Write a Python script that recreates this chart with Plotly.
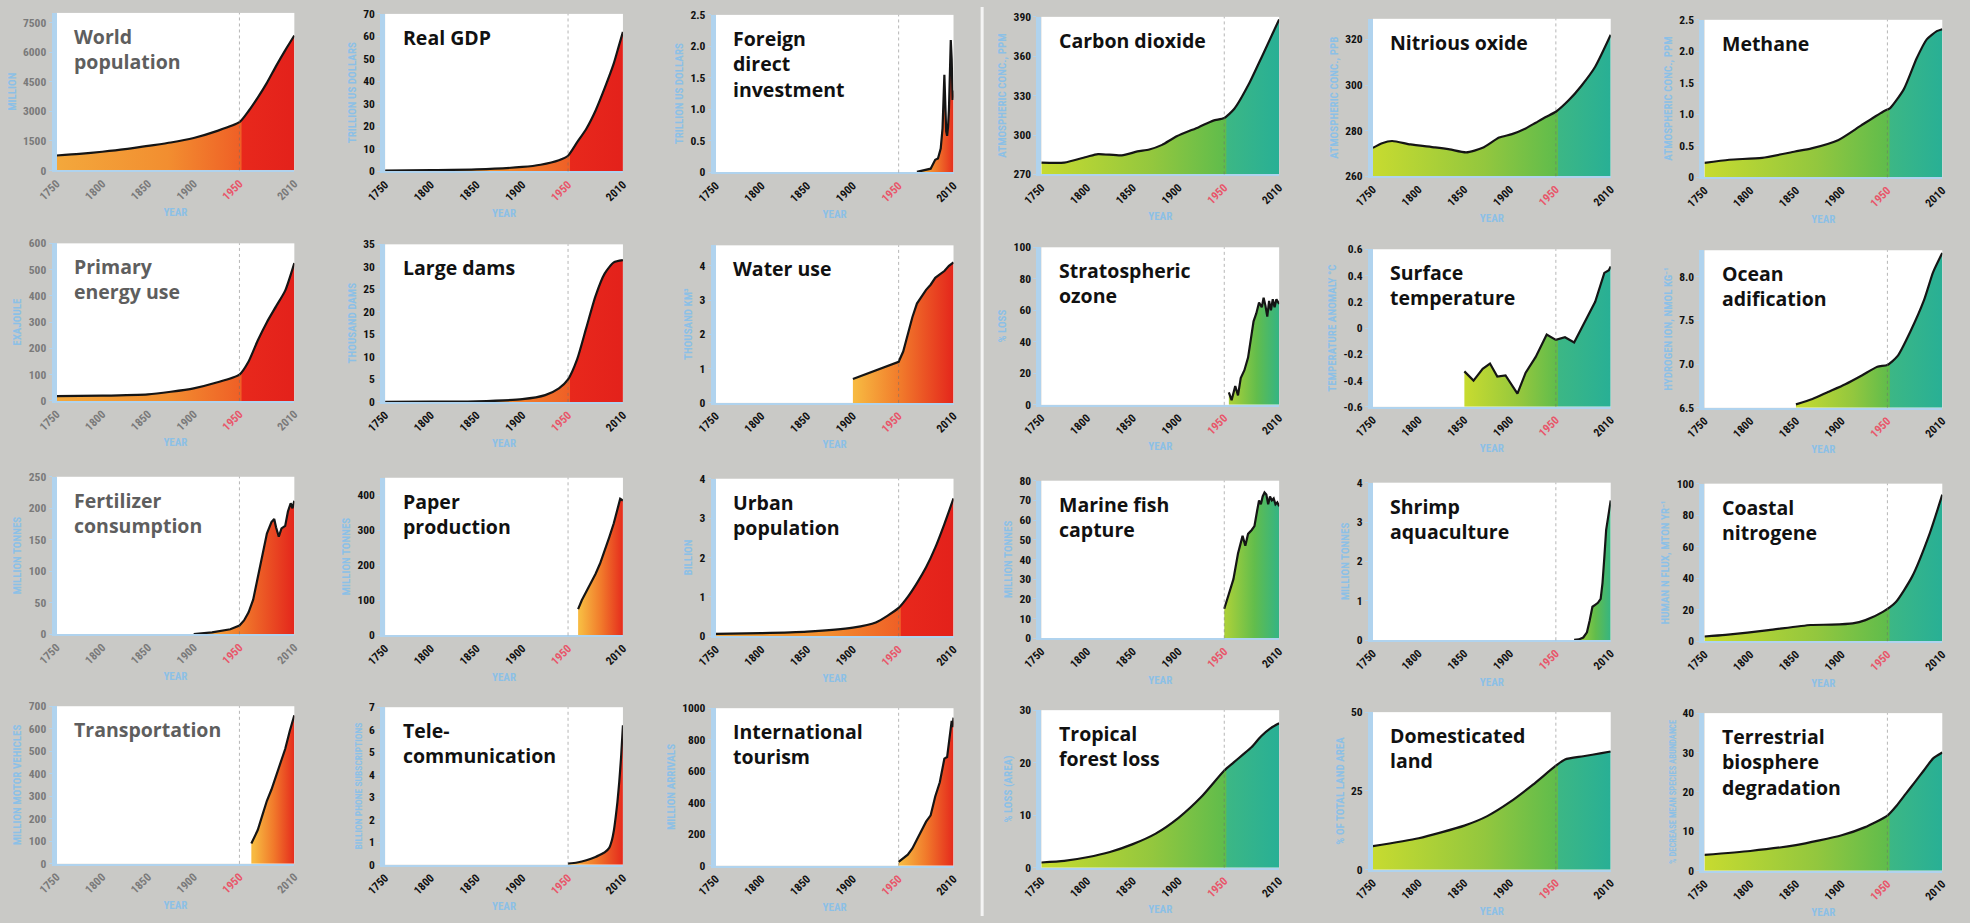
import plotly.graph_objects as go

W, H = 1970, 923
YEAR_TICKS = [1750, 1800, 1850, 1900, 1950, 2010]
YEAR_LABELS = ["1750", "1800", "1850", "1900", "1950", "2010"]

# ---------------- socio-economic data ----------------
pop_years = [1750, 1775, 1800, 1825, 1850, 1875, 1900, 1925, 1950, 1960, 1970, 1980, 1990, 2000, 2010]
pop_vals = [760, 840, 950, 1080, 1250, 1420, 1650, 2000, 2450, 3020, 3700, 4450, 5300, 6100, 6850]

gdp_years = [1750, 1800, 1850, 1900, 1920, 1940, 1950, 1960, 1970, 1980, 1990, 2000, 2005, 2010]
gdp_vals = [0.4, 0.6, 0.9, 2.0, 3.0, 5.0, 7.0, 13, 19, 27, 37, 48, 55, 62]

fdi_years = [1970, 1975, 1980, 1985, 1990, 1993, 1996, 1998, 2000, 2001, 2002, 2003, 2004, 2005, 2006, 2007, 2008, 2009, 2010]
fdi_vals = [0.01, 0.03, 0.05, 0.06, 0.2, 0.22, 0.38, 0.7, 1.55, 0.85, 0.65, 0.58, 0.72, 1.0, 1.45, 2.1, 1.8, 1.15, 1.3]

energy_years = [1750, 1800, 1850, 1875, 1900, 1925, 1950, 1960, 1970, 1980, 1990, 2000, 2010]
energy_vals = [18, 20, 25, 35, 48, 70, 100, 150, 230, 300, 360, 420, 525]

dams_years = [1750, 1800, 1850, 1900, 1925, 1940, 1950, 1960, 1970, 1980, 1990, 2000, 2010]
dams_vals = [0, 0.05, 0.15, 0.6, 1.5, 3.0, 5.0, 9.5, 16.5, 23.5, 28.5, 31, 31.5]

water_years = [1900, 1910, 1925, 1940, 1950, 1955, 1960, 1965, 1970, 1975, 1980, 1985, 1990, 1995, 2000, 2005, 2010]
water_vals = [0.7, 0.8, 0.95, 1.1, 1.2, 1.5, 2.0, 2.5, 2.9, 3.1, 3.3, 3.45, 3.65, 3.75, 3.85, 4.0, 4.1]

fert_years = [1900, 1920, 1940, 1950, 1955, 1960, 1965, 1970, 1975, 1980, 1985, 1988, 1990, 1993, 1996, 2000, 2003, 2006, 2008, 2010]
fert_vals = [0.5, 3, 8, 14, 22, 35, 55, 90, 120, 160, 178, 183, 170, 155, 168, 172, 195, 208, 200, 212]

paper_years = [1961, 1965, 1970, 1975, 1980, 1985, 1990, 1995, 2000, 2005, 2007, 2010]
paper_vals = [75, 100, 125, 150, 175, 205, 240, 280, 320, 365, 390, 385]

urban_years = [1750, 1800, 1850, 1900, 1925, 1950, 1960, 1970, 1980, 1990, 2000, 2010]
urban_vals = [0.06, 0.08, 0.12, 0.22, 0.35, 0.72, 1.0, 1.35, 1.75, 2.25, 2.85, 3.5]

transport_years = [1963, 1970, 1975, 1980, 1985, 1990, 1995, 2000, 2005, 2008, 2010]
transport_vals = [90, 150, 215, 280, 330, 390, 440, 510, 590, 640, 660]

telecom_years = [1950, 1960, 1970, 1980, 1985, 1990, 1995, 1998, 2000, 2002, 2004, 2006, 2008, 2010]
telecom_vals = [0.05, 0.1, 0.2, 0.35, 0.45, 0.55, 0.75, 1.1, 1.5, 2.1, 2.8, 3.7, 4.8, 6.2]

tourism_years = [1950, 1955, 1960, 1965, 1970, 1975, 1980, 1985, 1990, 1995, 2000, 2003, 2005, 2008, 2009, 2010]
tourism_vals = [25, 45, 70, 110, 165, 220, 280, 320, 440, 530, 680, 690, 800, 920, 880, 940]

# ---------------- earth-system data ----------------
co2_years = [1750, 1775, 1800, 1812, 1838, 1855, 1868, 1882, 1898, 1922, 1938, 1950, 1961, 1977, 1992, 2010]
co2_vals = [279, 279, 283.5, 285.5, 284.5, 287.5, 289, 292.5, 299, 306, 311, 313, 320, 339, 361, 388]

n2o_years = [1750, 1760, 1771, 1791, 1818, 1834, 1852, 1870, 1888, 1902, 1917, 1928, 1939, 1950, 1964, 1978, 1993, 2010]
n2o_vals = [272.5, 274.5, 275.5, 274.0, 272.7, 271.8, 270.5, 272.5, 277, 278.5, 281, 283.5, 286, 288.3, 293.3, 299.7, 308, 322]

ch4_years = [1750, 1777, 1813, 1849, 1867, 1896, 1921, 1946, 1953, 1968, 1982, 1993, 2004, 2010]
ch4_vals = [0.23, 0.28, 0.31, 0.41, 0.46, 0.59, 0.82, 1.05, 1.1, 1.4, 1.89, 2.19, 2.32, 2.35]

ozone_years = [1955, 1958, 1962, 1965, 1968, 1972, 1976, 1979, 1982, 1985, 1988, 1991, 1993, 1995, 1997, 1999, 2001, 2003, 2005, 2007, 2010]
ozone_vals = [8, 3, 12, 6, 17, 22, 30, 42, 53, 58, 65, 62, 68, 63, 56, 66, 60, 67, 62, 67, 64]

temp_years = [1850, 1860, 1870, 1878, 1886, 1895, 1908, 1917, 1928, 1940, 1950, 1960, 1970, 1978, 1993, 2003, 2008, 2010]
temp_vals = [-0.33, -0.40, -0.31, -0.27, -0.37, -0.36, -0.50, -0.34, -0.22, -0.05, -0.09, -0.07, -0.11, 0.0, 0.2, 0.42, 0.44, 0.47]

ocean_years = [1850, 1868, 1885, 1904, 1922, 1939, 1950, 1961, 1975, 1990, 2000, 2010]
ocean_vals = [6.54, 6.6, 6.68, 6.77, 6.87, 6.97, 6.99, 7.09, 7.37, 7.73, 8.05, 8.27]

fish_years = [1950, 1955, 1960, 1965, 1970, 1973, 1976, 1980, 1983, 1986, 1988, 1990, 1992, 1994, 1996, 1998, 2000, 2002, 2004, 2006, 2008, 2010]
fish_vals = [15, 22, 30, 43, 52, 47, 53, 55, 57, 65, 70, 68, 72, 74, 73, 68, 72, 70, 71, 68, 69, 67]

shrimp_years = [1970, 1975, 1980, 1984, 1987, 1990, 1993, 1996, 1999, 2001, 2003, 2005, 2007, 2009, 2010]
shrimp_vals = [0.01, 0.02, 0.07, 0.2, 0.5, 0.85, 0.9, 0.95, 1.05, 1.45, 2.1, 2.8, 3.1, 3.4, 3.55]

coastal_years = [1750, 1773, 1820, 1866, 1889, 1912, 1926, 1945, 1959, 1977, 1996, 2010]
coastal_vals = [3, 4, 7, 10.3, 10.5, 11.3, 13.4, 18.6, 24.7, 41, 68, 93]

forest_years = [1750, 1775, 1800, 1825, 1850, 1875, 1900, 1925, 1950, 1960, 1970, 1980, 1990, 2000, 2010]
forest_vals = [1, 1.3, 2, 3, 4.5, 6.5, 9.5, 13.5, 18.5, 20, 21.5, 23, 25, 26.5, 27.5]

land_years = [1750, 1800, 1850, 1875, 1900, 1925, 1950, 1960, 1980, 2000, 2010]
land_vals = [7.5, 10, 14, 17, 21.5, 27, 33, 35, 36, 37, 37.5]

bio_years = [1750, 1800, 1850, 1900, 1925, 1950, 1960, 1970, 1980, 1990, 2000, 2010]
bio_vals = [4, 5, 6.5, 9, 11, 14, 16.5, 19.5, 22.5, 25.5, 28.5, 30]

# ---------------- panel definitions (row-major) ----------------
panels = [
    dict(title="World<br>population", yt="MILLION", x=pop_years, y=pop_vals, kind="s", rng=[0, 8000], tv=[0, 1500, 3000, 4500, 6000, 7500], smooth=True),
    dict(title="Real GDP", yt="TRILLION US DOLLARS", x=gdp_years, y=gdp_vals, kind="s", rng=[0, 70], tv=[0, 10, 20, 30, 40, 50, 60, 70], smooth=True),
    dict(title="Foreign<br>direct<br>investment", yt="TRILLION US DOLLARS", x=fdi_years, y=fdi_vals, kind="s", rng=[0, 2.5], tv=[0, 0.5, 1.0, 1.5, 2.0, 2.5], tt=["0", "0.5", "1.0", "1.5", "2.0", "2.5"], smooth=False),
    dict(title="Carbon dioxide", yt="ATMOSPHERIC CONC., PPM", x=co2_years, y=co2_vals, kind="e", rng=[270, 390], tv=[270, 300, 330, 360, 390], smooth=True),
    dict(title="Nitrious oxide", yt="ATMOSPHERIC CONC., PPB", x=n2o_years, y=n2o_vals, kind="e", rng=[260, 329], tv=[260, 280, 300, 320], smooth=True),
    dict(title="Methane", yt="ATMOSPHERIC CONC., PPM", x=ch4_years, y=ch4_vals, kind="e", rng=[0, 2.5], tv=[0, 0.5, 1.0, 1.5, 2.0, 2.5], tt=["0", "0.5", "1.0", "1.5", "2.0", "2.5"], smooth=True),

    dict(title="Primary<br>energy use", yt="EXAJOULE", x=energy_years, y=energy_vals, kind="s", rng=[0, 600], tv=[0, 100, 200, 300, 400, 500, 600], smooth=True),
    dict(title="Large dams", yt="THOUSAND DAMS", x=dams_years, y=dams_vals, kind="s", rng=[0, 35], tv=[0, 5, 10, 15, 20, 25, 30, 35], smooth=True),
    dict(title="Water use", yt="THOUSAND KM³", x=water_years, y=water_vals, kind="s", rng=[0, 4.6], tv=[0, 1, 2, 3, 4], smooth=False),
    dict(title="Stratospheric<br>ozone", yt="% LOSS", x=ozone_years, y=ozone_vals, kind="e", rng=[0, 100], tv=[0, 20, 40, 60, 80, 100], smooth=False),
    dict(title="Surface<br>temperature", yt="TEMPERATURE ANOMALY °C", x=temp_years, y=temp_vals, kind="e", rng=[-0.6, 0.6], tv=[-0.6, -0.4, -0.2, 0, 0.2, 0.4, 0.6], tt=["-0.6", "-0.4", "-0.2", "0", "0.2", "0.4", "0.6"], smooth=False),
    dict(title="Ocean<br>adification", yt="HYDROGEN ION, NMOL KG⁻¹", x=ocean_years, y=ocean_vals, kind="e", rng=[6.5, 8.3], tv=[6.5, 7.0, 7.5, 8.0], tt=["6.5", "7.0", "7.5", "8.0"], smooth=True),

    dict(title="Fertilizer<br>consumption", yt="MILLION TONNES", x=fert_years, y=fert_vals, kind="s", rng=[0, 250], tv=[0, 50, 100, 150, 200, 250], smooth=False),
    dict(title="Paper<br>production", yt="MILLION TONNES", x=paper_years, y=paper_vals, kind="s", rng=[0, 450], tv=[0, 100, 200, 300, 400], smooth=False),
    dict(title="Urban<br>population", yt="BILLION", x=urban_years, y=urban_vals, kind="s", rng=[0, 4], tv=[0, 1, 2, 3, 4], smooth=True),
    dict(title="Marine fish<br>capture", yt="MILLION TONNES", x=fish_years, y=fish_vals, kind="e", rng=[0, 80], tv=[0, 10, 20, 30, 40, 50, 60, 70, 80], smooth=False),
    dict(title="Shrimp<br>aquaculture", yt="MILLION TONNES", x=shrimp_years, y=shrimp_vals, kind="e", rng=[0, 4], tv=[0, 1, 2, 3, 4], smooth=False),
    dict(title="Coastal<br>nitrogene", yt="HUMAN N FLUX, MTON YR⁻¹", x=coastal_years, y=coastal_vals, kind="e", rng=[0, 100], tv=[0, 20, 40, 60, 80, 100], smooth=True),

    dict(title="Transportation", yt="MILLION MOTOR VEHICLES", x=transport_years, y=transport_vals, kind="s", rng=[0, 700], tv=[0, 100, 200, 300, 400, 500, 600, 700], smooth=False),
    dict(title="Tele-<br>communication", yt="BILLION PHONE SUBSCRIPTIONS", x=telecom_years, y=telecom_vals, kind="s", rng=[0, 7], tv=[0, 1, 2, 3, 4, 5, 6, 7], smooth=True, yts=9.5),
    dict(title="International<br>tourism", yt="MILLION ARRIVALS", x=tourism_years, y=tourism_vals, kind="s", rng=[0, 1000], tv=[0, 200, 400, 600, 800, 1000], smooth=False),
    dict(title="Tropical<br>forest loss", yt="% LOSS (AREA)", x=forest_years, y=forest_vals, kind="e", rng=[0, 30], tv=[0, 10, 20, 30], smooth=True),
    dict(title="Domesticated<br>land", yt="% OF TOTAL LAND AREA", x=land_years, y=land_vals, kind="e", rng=[0, 50], tv=[0, 25, 50], smooth=True),
    dict(title="Terrestrial<br>biosphere<br>degradation", yt="% DECREASE MEAN SPECIES ABUNDANCE", x=bio_years, y=bio_vals, kind="e", rng=[0, 40], tv=[0, 10, 20, 30, 40], smooth=True, yts=8.5),
]

# ---------------- layout geometry (pixels) ----------------
COL_LEFT = [37, 370, 705, 1035, 1371, 1707]
COL_W = 241
COL_DY = [0, 1, 2, 4, 6, 7]
ROW_TOP = [6, 240, 477, 710]
ROW_H = 160

NARROW = "Liberation Sans Narrow, Roboto Condensed, Arial Narrow, Roboto, sans-serif"
TITLEF = "Open Sans, Roboto, sans-serif"
BLUE = "#8cc0e6"
AXBLUE = "#b0d3ee"


def gradient(xs, kind):
    a, b = xs[0], xs[-1]
    if a <= 1850:
        f = (1950 - a) / (b - a)
        if kind == "s":
            cs = [[0, "#f3a83c"], [f * 0.6, "#f28e30"], [f - 0.003, "#ef5f26"], [f, "#e8281c"], [1, "#e3211b"]]
        else:
            cs = [[0, "#c7db30"], [f * 0.6, "#93c73e"], [f - 0.003, "#5fbc4c"], [f, "#3cb785"], [1, "#27af96"]]
    else:
        if kind == "s":
            cs = [[0, "#f7b941"], [0.45, "#f17a2b"], [1, "#e3211b"]]
        else:
            cs = [[0, "#a9d03a"], [0.5, "#62bd4c"], [1, "#2db38c"]]
    return dict(type="horizontal", colorscale=cs, start=a, stop=b)


fig = go.Figure()
layout = dict(
    width=W, height=H, margin=dict(l=0, r=0, t=0, b=0),
    paper_bgcolor="#c9c9c6", plot_bgcolor="#ffffff",
    showlegend=False, font=dict(family=NARROW, color="#111"),
    shapes=[], annotations=[],
)

for k, p in enumerate(panels):
    r, c = divmod(k, 6)
    s = "" if k == 0 else str(k + 1)
    x0 = COL_LEFT[c]
    top = ROW_TOP[r] + COL_DY[c]
    blurred = c == 0
    tcol = "#7a7a7a" if blurred else "#111"
    ttl = "#5e5e5e" if blurred else "#111"
    base = p["rng"][0]

    fig.add_trace(go.Scatter(x=p["x"], y=[base] * len(p["x"]), mode="lines",
                             line=dict(width=0, color="rgba(0,0,0,0)"),
                             xaxis="x" + s, yaxis="y" + s, hoverinfo="skip"))
    fig.add_trace(go.Scatter(x=p["x"], y=p["y"], mode="lines", fill="tonexty",
                             fillgradient=gradient(p["x"], p["kind"]),
                             line=dict(color="#151515", width=2.2,
                                       shape="spline" if p["smooth"] else "linear", smoothing=0.6),
                             xaxis="x" + s, yaxis="y" + s))

    ticktext = [('<span style="color:#e8566a">%s</span>' % t) if t == "1950" else t for t in YEAR_LABELS]
    layout["xaxis" + s] = dict(
        domain=[x0 / W, (x0 + COL_W) / W], anchor="y" + s, range=[1750, 2010],
        tickvals=YEAR_TICKS, ticktext=ticktext, tickangle=-45,
        tickfont=dict(size=11.5, color=tcol, family=NARROW, weight="bold"),
        showgrid=False, zeroline=False, showline=True, linecolor=AXBLUE, linewidth=2,
        ticks="", fixedrange=True,
        title=dict(text="YEAR", font=dict(size=11, color=BLUE, family=NARROW, weight="bold"), standoff=6),
    )
    yax = dict(
        domain=[1 - (top + ROW_H) / H, 1 - top / H], anchor="x" + s, range=p["rng"],
        tickvals=p["tv"], tickfont=dict(size=11.5, color=tcol, family=NARROW, weight="bold"),
        showgrid=False, zeroline=False, showline=True, linecolor=AXBLUE, linewidth=5,
        ticks="outside", ticklen=3, tickcolor=AXBLUE, fixedrange=True,
        title=dict(text=p["yt"], font=dict(size=p.get("yts", 11), color=BLUE, family=NARROW, weight="bold"), standoff=6),
    )
    if "tt" in p:
        yax["ticktext"] = p["tt"]
    layout["yaxis" + s] = yax

    layout["shapes"].append(dict(type="line", xref="x" + s, yref="y" + s + " domain",
                                 x0=1950, x1=1950, y0=0, y1=1, layer="above",
                                 line=dict(color="rgba(110,110,110,0.5)", width=1, dash="dot")))
    layout["annotations"].append(dict(
        text="<b>%s</b>" % p["title"], xref="x" + s + " domain", yref="y" + s + " domain",
        x=0.065, y=0.95, xanchor="left", yanchor="top", align="left", showarrow=False,
        font=dict(size=19.5, color=ttl, family=TITLEF)))

layout["shapes"].append(dict(type="line", xref="paper", yref="paper", x0=975 / W, x1=975 / W,
                             y0=0, y1=1, line=dict(color="#f4f4f4", width=3)))

fig.update_layout(**layout)
fig.write_html("out.html", config={"displayModeBar": False},
               post_script="document.body.style.margin='0px';document.body.style.overflow='hidden';")
